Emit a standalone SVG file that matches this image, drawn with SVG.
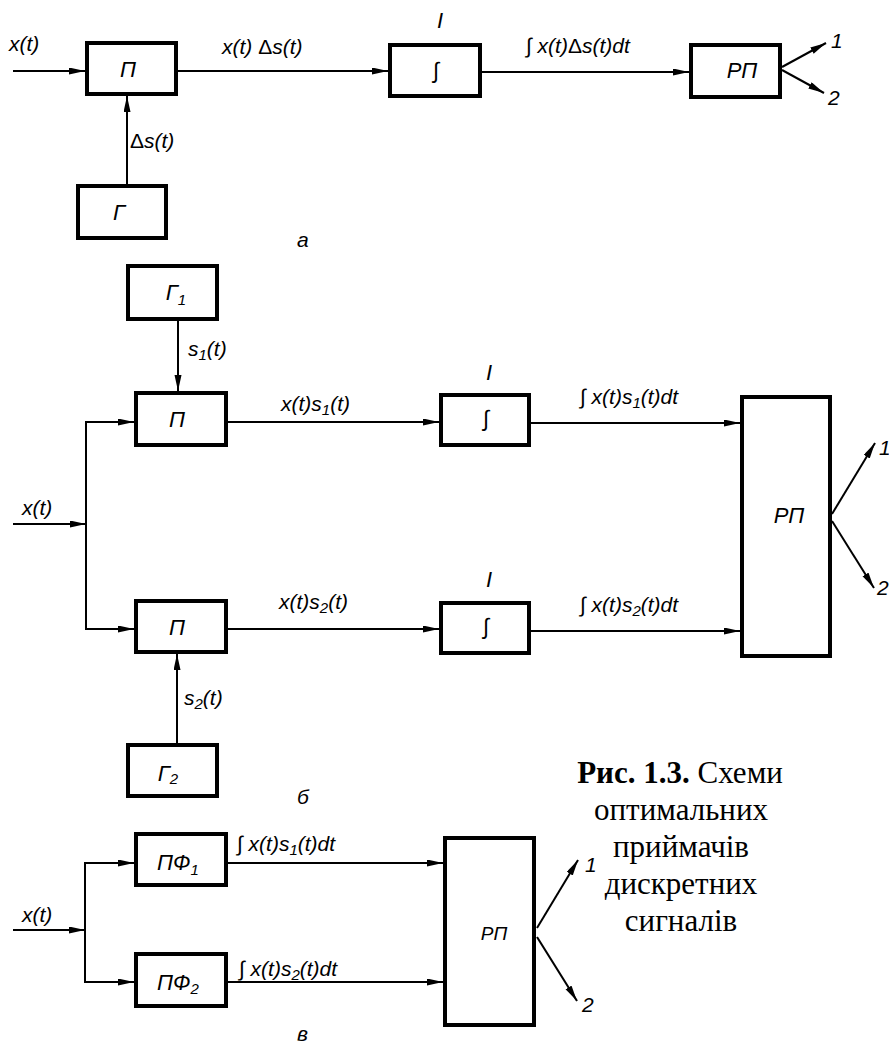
<svg xmlns="http://www.w3.org/2000/svg" width="889" height="1043" viewBox="0 0 889 1043">
<style>
.box{fill:#fff;stroke:#000;stroke-width:4}
.ln{fill:none;stroke:#000;stroke-width:2}
.ar{fill:none;stroke:#000;stroke-width:2;marker-end:url(#ah)}
.t{font-family:"Liberation Sans",Arial,sans-serif;font-style:italic;font-size:21px;fill:#000}
.n{font-family:"Liberation Sans",Arial,sans-serif;font-style:italic;font-size:22px;fill:#000;text-anchor:middle}
.sub{font-size:15px}
.up{font-style:normal}
.cap{font-family:"Liberation Serif","Times New Roman",serif;font-size:31px;fill:#000;text-anchor:middle}
</style>
<defs>
<marker id="ah" markerUnits="userSpaceOnUse" markerWidth="16" markerHeight="8" refX="16" refY="3.5" orient="auto">
<path d="M0,0 L16,3.5 L0,7 z" fill="#000"/>
</marker>
</defs>
<rect width="889" height="1043" fill="#fff"/>

<g id="connectors">
<line class="ar" x1="13" y1="71" x2="85" y2="71"/>
<line class="ar" x1="178" y1="71" x2="388" y2="71"/>
<line class="ar" x1="482" y1="72" x2="689" y2="72"/>
<line class="ar" x1="127" y1="184" x2="127" y2="96"/>
<line class="ar" x1="782" y1="67" x2="826" y2="43"/>
<line class="ar" x1="782" y1="70" x2="824" y2="93"/>

<line class="ar" x1="178" y1="321" x2="178" y2="391"/>
<line class="ar" x1="13" y1="524" x2="86" y2="524"/>
<line class="ln" x1="86" y1="421" x2="86" y2="630"/>
<line class="ar" x1="85" y1="422" x2="134" y2="422"/>
<line class="ar" x1="85" y1="629" x2="134" y2="629"/>
<line class="ar" x1="228" y1="422" x2="439" y2="422"/>
<line class="ar" x1="531" y1="423" x2="740" y2="423"/>
<line class="ar" x1="228" y1="629" x2="439" y2="629"/>
<line class="ar" x1="531" y1="631" x2="740" y2="631"/>
<line class="ar" x1="177" y1="743" x2="177" y2="654"/>
<line class="ar" x1="832" y1="514" x2="875" y2="443"/>
<line class="ar" x1="832" y1="521" x2="874" y2="588"/>

<line class="ar" x1="13" y1="930" x2="85" y2="930"/>
<line class="ln" x1="85" y1="862" x2="85" y2="983"/>
<line class="ar" x1="84" y1="863" x2="134" y2="863"/>
<line class="ar" x1="84" y1="982" x2="134" y2="982"/>
<line class="ar" x1="228" y1="863" x2="443" y2="863"/>
<line class="ar" x1="228" y1="982" x2="443" y2="982"/>
<line class="ar" x1="537" y1="928" x2="578" y2="860"/>
<line class="ar" x1="537" y1="937" x2="577" y2="1001"/>
</g>

<g id="a_P"><rect class="box" x="87" y="43" width="89" height="51"/><text class="n" x="128" y="77">П</text></g>
<g id="a_G"><rect class="box" x="78" y="186" width="88" height="52"/><text class="n" x="119" y="220">Г</text></g>
<g id="a_I"><rect class="box" x="390" y="45" width="90" height="51"/><text class="n" x="436" y="78">∫</text><text class="n" x="440" y="28">I</text></g>
<g id="a_RP"><rect class="box" x="691" y="45" width="89" height="52"/><text class="n" x="742" y="78">РП</text></g>

<g id="b_G1"><rect class="box" x="128" y="266" width="89" height="53"/><text class="n" x="176" y="300">Г<tspan class="sub" dy="5">1</tspan></text></g>
<g id="b_P1"><rect class="box" x="136" y="393" width="90" height="52"/><text class="n" x="177" y="427">П</text></g>
<g id="b_I1"><rect class="box" x="441" y="395" width="88" height="50"/><text class="n" x="486" y="426">∫</text><text class="n" x="489" y="380">I</text></g>
<g id="b_RP"><rect class="box" x="742" y="397" width="88" height="259"/><text class="n" x="789" y="523">РП</text></g>
<g id="b_P2"><rect class="box" x="136" y="601" width="90" height="51"/><text class="n" x="177" y="635">П</text></g>
<g id="b_I2"><rect class="box" x="441" y="603" width="88" height="50"/><text class="n" x="486" y="634">∫</text><text class="n" x="489" y="587">I</text></g>
<g id="b_G2"><rect class="box" x="128" y="745" width="89" height="51"/><text class="n" x="168" y="781">Г<tspan class="sub" dy="3">2</tspan></text></g>

<g id="c_PF1"><rect class="box" x="136" y="834" width="90" height="51"/><text class="n" x="178" y="870">ПФ<tspan class="sub" dy="5">1</tspan></text></g>
<g id="c_PF2"><rect class="box" x="136" y="954" width="90" height="52"/><text class="n" x="178" y="990">ПФ<tspan class="sub" dy="4">2</tspan></text></g>
<g id="c_RP"><rect class="box" x="445" y="838" width="89" height="187"/><text class="n" x="494" y="940" style="font-size:19px">РП</text></g>

<g id="labels">
<text class="t" x="9" y="51">x(t)</text>
<text class="t" x="222" y="54">x(t) <tspan class="up">Δ</tspan>s(t)</text>
<text class="t" x="526" y="53">∫ x(t)<tspan class="up">Δ</tspan>s(t)dt</text>
<text class="t" x="130" y="148"><tspan class="up">Δ</tspan>s(t)</text>
<text class="t" x="831" y="48">1</text>
<text class="t" x="828" y="105">2</text>
<text class="t" x="297" y="247">а</text>

<text class="t" x="188" y="356">s<tspan class="sub" dy="4">1</tspan><tspan dy="-4">(t)</tspan></text>
<text class="t" x="22" y="515">x(t)</text>
<text class="t" x="281" y="411">x(t)s<tspan class="sub" dy="4">1</tspan><tspan dy="-4">(t)</tspan></text>
<text class="t" x="580" y="404">∫ x(t)s<tspan class="sub" dy="4">1</tspan><tspan dy="-4">(t)dt</tspan></text>
<text class="t" x="279" y="609">x(t)s<tspan class="sub" dy="4">2</tspan><tspan dy="-4">(t)</tspan></text>
<text class="t" x="580" y="612">∫ x(t)s<tspan class="sub" dy="4">2</tspan><tspan dy="-4">(t)dt</tspan></text>
<text class="t" x="184" y="705">s<tspan class="sub" dy="4">2</tspan><tspan dy="-4">(t)</tspan></text>
<text class="t" x="879" y="455">1</text>
<text class="t" x="877" y="595">2</text>
<text class="t" x="297" y="804">б</text>

<text class="t" x="22" y="922">x(t)</text>
<text class="t" x="237" y="851">∫ x(t)s<tspan class="sub" dy="4">1</tspan><tspan dy="-4">(t)dt</tspan></text>
<text class="t" x="239" y="976">∫ x(t)s<tspan class="sub" dy="4">2</tspan><tspan dy="-4">(t)dt</tspan></text>
<text class="t" x="585" y="872">1</text>
<text class="t" x="582" y="1012">2</text>
<text class="t" x="297" y="1041">в</text>
</g>

<g id="caption">
<text class="cap" x="680" y="783"><tspan font-weight="bold">Рис. 1.3.</tspan> Схеми</text>
<text class="cap" x="681" y="820">оптимальних</text>
<text class="cap" x="681" y="857">приймачів</text>
<text class="cap" x="681" y="894">дискретних</text>
<text class="cap" x="681" y="931">сигналів</text>
</g>
</svg>
